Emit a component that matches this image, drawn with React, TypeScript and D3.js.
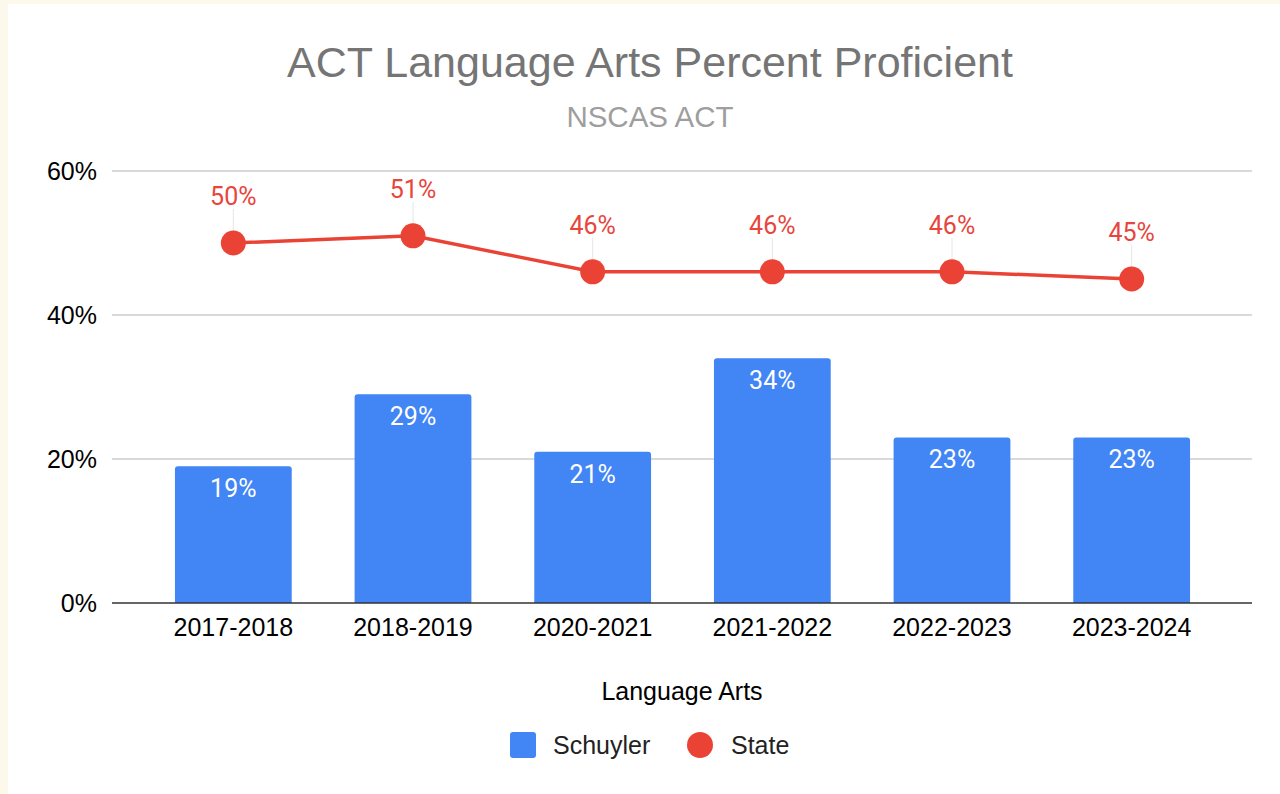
import * as d3 from "d3";
import React, { useRef, useEffect } from "react";

const years = ["2017-2018", "2018-2019", "2020-2021", "2021-2022", "2022-2023", "2023-2024"];
const schuyler = [0.19, 0.29, 0.21, 0.34, 0.23, 0.23];
const stateVals = [0.50, 0.51, 0.46, 0.46, 0.46, 0.45];
const yTicks = [0, 0.2, 0.4, 0.6];

const App = () => {
    const ref = useRef<HTMLDivElement>(null);

    useEffect(() => {
        const width = 1280;
        const height = 794;
        const blue = "#4285f4";
        const red = "#ea4335";
        const arial = "'Liberation Sans', Arial, sans-serif";
        const roboto = "Roboto, sans-serif";

        // plot area
        const gridLeft = 112;
        const gridRight = 1252;
        const top = 171;
        const bottom = 603;

        const x = d3.scaleBand()
            .domain(years)
            .range([143.5, 1221.5])
            .paddingInner(0.35)
            .paddingOuter(0.175);

        const y = d3.scaleLinear()
            .domain([0, 0.6])
            .range([bottom, top]);

        const pct = d3.format(".0%");

        const svg = d3.create("svg")
            .attr("width", width)
            .attr("height", height)
            .attr("viewBox", `0 0 ${width} ${height}`)
            .style("position", "absolute")
            .style("left", "0px")
            .style("top", "0px");

        // page background with cream frame
        svg.append("rect").attr("width", width).attr("height", height).attr("fill", "#fdf8ec");
        svg.append("rect").attr("x", 8).attr("y", 4).attr("width", width - 8).attr("height", height - 4).attr("fill", "#fff");

        // titles
        svg.append("text")
            .attr("x", 650).attr("y", 77)
            .attr("text-anchor", "middle")
            .attr("font-family", arial).attr("font-size", 43)
            .attr("fill", "#757575")
            .text("ACT Language Arts Percent Proficient");

        svg.append("text")
            .attr("x", 650).attr("y", 127)
            .attr("text-anchor", "middle")
            .attr("font-family", arial).attr("font-size", 29.5)
            .attr("fill", "#9e9e9e")
            .text("NSCAS ACT");

        // gridlines + y labels
        const yAxis = svg.append("g");
        yAxis.selectAll("line")
            .data(yTicks.filter(d => d > 0))
            .join("line")
            .attr("x1", gridLeft).attr("x2", gridRight)
            .attr("y1", d => y(d)).attr("y2", d => y(d))
            .attr("stroke", "#cccccc").attr("stroke-width", 1.5);

        yAxis.selectAll("text")
            .data(yTicks)
            .join("text")
            .attr("x", 97).attr("y", d => y(d))
            .attr("dy", "0.35em")
            .attr("text-anchor", "end")
            .attr("font-family", arial).attr("font-size", 25)
            .attr("fill", "#000")
            .text(d => pct(d));

        // bars with slightly rounded tops
        const r = 3;
        svg.append("g")
            .selectAll("path")
            .data(schuyler)
            .join("path")
            .attr("fill", blue)
            .attr("d", (d, i) => {
                const x0 = x(years[i])!;
                const x1 = x0 + x.bandwidth();
                const y0 = y(d);
                const p = d3.path();
                p.moveTo(x0, bottom);
                p.lineTo(x0, y0 + r);
                p.quadraticCurveTo(x0, y0, x0 + r, y0);
                p.lineTo(x1 - r, y0);
                p.quadraticCurveTo(x1, y0, x1, y0 + r);
                p.lineTo(x1, bottom);
                p.closePath();
                return p.toString();
            });

        svg.append("g")
            .selectAll("text")
            .data(schuyler)
            .join("text")
            .attr("x", (d, i) => x(years[i])! + x.bandwidth() / 2)
            .attr("y", d => y(d) + 31)
            .attr("text-anchor", "middle")
            .attr("font-family", roboto).attr("font-size", 25)
            .attr("fill", "#fff")
            .text(d => pct(d));

        // baseline axis
        svg.append("line")
            .attr("x1", gridLeft).attr("x2", gridRight)
            .attr("y1", bottom).attr("y2", bottom)
            .attr("stroke", "#333").attr("stroke-width", 1.5);

        // x labels
        svg.append("g")
            .selectAll("text")
            .data(years)
            .join("text")
            .attr("x", d => x(d)! + x.bandwidth() / 2)
            .attr("y", 636)
            .attr("text-anchor", "middle")
            .attr("font-family", arial).attr("font-size", 25)
            .attr("fill", "#000")
            .text(d => d);

        // state line
        const cx = (i: number) => x(years[i])! + x.bandwidth() / 2;

        // leader lines from labels
        svg.append("g")
            .selectAll("line")
            .data(stateVals)
            .join("line")
            .attr("x1", (d, i) => cx(i)).attr("x2", (d, i) => cx(i))
            .attr("y1", d => y(d) - 34).attr("y2", d => y(d))
            .attr("stroke", "#e6e6e6").attr("stroke-width", 1);

        const line = d3.line<number>()
            .x((d, i) => cx(i))
            .y(d => y(d));

        svg.append("path")
            .datum(stateVals)
            .attr("fill", "none")
            .attr("stroke", red)
            .attr("stroke-width", 3.5)
            .attr("d", line);

        svg.append("g")
            .selectAll("circle")
            .data(stateVals)
            .join("circle")
            .attr("cx", (d, i) => cx(i))
            .attr("cy", d => y(d))
            .attr("r", 12.5)
            .attr("fill", red);

        svg.append("g")
            .selectAll("text")
            .data(stateVals)
            .join("text")
            .attr("x", (d, i) => cx(i))
            .attr("y", d => y(d) - 38)
            .attr("text-anchor", "middle")
            .attr("font-family", roboto).attr("font-size", 25)
            .attr("fill", "#e8453c")
            .text(d => pct(d));

        // axis title
        svg.append("text")
            .attr("x", (gridLeft + gridRight) / 2).attr("y", 700)
            .attr("text-anchor", "middle")
            .attr("font-family", arial).attr("font-size", 25)
            .attr("fill", "#000")
            .text("Language Arts");

        // legend
        const legend = svg.append("g");
        legend.append("rect")
            .attr("x", 510).attr("y", 732)
            .attr("width", 26).attr("height", 26)
            .attr("rx", 3)
            .attr("fill", blue);
        legend.append("text")
            .attr("x", 553).attr("y", 754)
            .attr("font-family", arial).attr("font-size", 25)
            .attr("fill", "#222")
            .text("Schuyler");
        legend.append("circle")
            .attr("cx", 700).attr("cy", 745)
            .attr("r", 13)
            .attr("fill", red);
        legend.append("text")
            .attr("x", 731).attr("y", 754)
            .attr("font-family", arial).attr("font-size", 25)
            .attr("fill", "#222")
            .text("State");

        if (ref.current) {
            ref.current.innerHTML = "";
            ref.current.appendChild(svg.node()!);
        }
    }, []);

    return <div ref={ref}></div>;
};

export default App;
